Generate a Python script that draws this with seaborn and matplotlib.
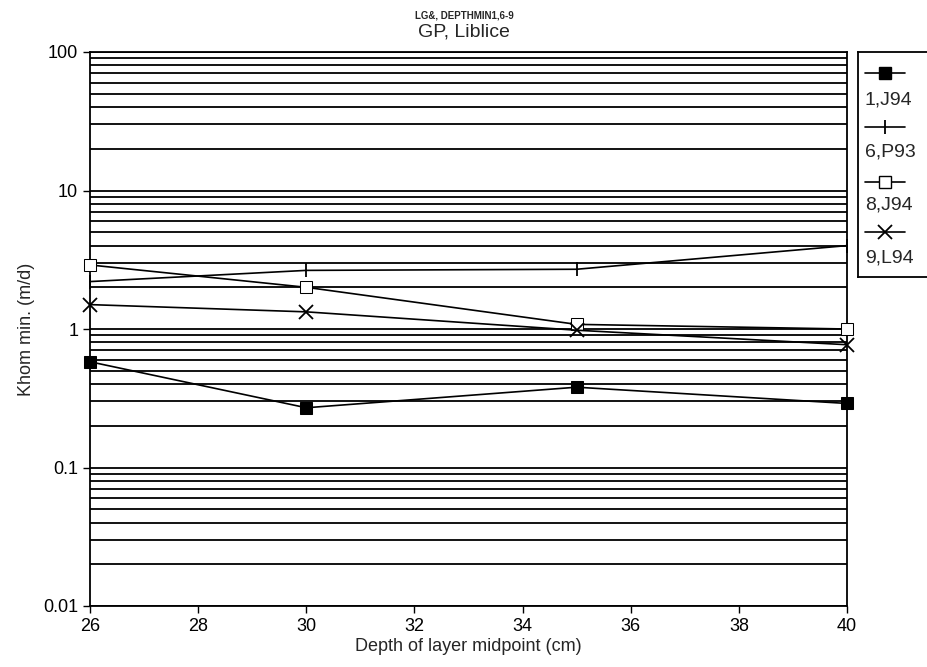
import numpy as np
import pandas as pd
import matplotlib
matplotlib.use("Agg")
import matplotlib.pyplot as plt
from matplotlib.ticker import FixedLocator, FixedFormatter, LogLocator, NullFormatter
import seaborn as sns

depth = [26, 30, 35, 40]
s_1J94 = [0.58, 0.27, 0.38, 0.29]
s_6P93 = [2.2, 2.65, 2.7, 4.0]
s_8J94 = [2.9, 2.0, 1.08, 1.0]
s_9L94 = [1.5, 1.33, 0.98, 0.77]
series_names = ["1,J94", "6,P93", "8,J94", "9,L94"]
series_values = [s_1J94, s_6P93, s_8J94, s_9L94]
y_ticks = [0.01, 0.1, 1, 10, 100]
y_tick_labels = ["0.01", "0.1", "1", "10", "100"]
x_ticks = [26, 28, 30, 32, 34, 36, 38, 40]

sns.set_style("white")
plt.rcParams["font.family"] = ["Liberation Sans", "DejaVu Sans"]

styles = {
    "1,J94": dict(marker="s", markersize=9, markerfacecolor="black", markeredgecolor="black"),
    "6,P93": dict(marker="|", markersize=10, markeredgewidth=1.3, markeredgecolor="black"),
    "8,J94": dict(marker="s", markersize=9, markerfacecolor="white", markeredgecolor="black"),
    "9,L94": dict(marker="x", markersize=10, markeredgewidth=1.3, markeredgecolor="black"),
}

fig = plt.figure(figsize=(9.28, 6.67), dpi=100)
ax = fig.add_axes([90/928, 1-606/667, (847-90)/928, (606-52)/667])

df = pd.DataFrame({
    "depth": np.tile(depth, len(series_names)),
    "value": np.concatenate(series_values),
    "series": np.repeat(series_names, len(depth)),
})

for name in series_names:
    sub = df[df["series"] == name]
    sns.lineplot(data=sub, x="depth", y="value", ax=ax, color="black",
                 linewidth=1.2, legend=False, zorder=3, clip_on=False,
                 **styles[name])

ax.set_yscale("log")
ax.set_ylim(0.01, 100)
ax.set_xlim(26, 40)
ax.yaxis.set_major_locator(FixedLocator(y_ticks))
ax.yaxis.set_major_formatter(FixedFormatter(y_tick_labels))
ax.yaxis.set_minor_locator(LogLocator(base=10, subs=np.arange(2, 10)))
ax.yaxis.set_minor_formatter(NullFormatter())
ax.set_xticks(x_ticks)
ax.grid(True, axis="y", which="both", color="black", linewidth=1.3)
ax.grid(False, axis="x")
ax.tick_params(axis="both", which="major", direction="out", length=5, width=1,
               labelsize=13, colors="black", left=True, bottom=True)
ax.tick_params(axis="y", which="minor", length=0)
for sp in ax.spines.values():
    sp.set_color("black")
    sp.set_linewidth(1.3)
ax.set_xlabel("Depth of layer midpoint (cm)", fontsize=13, labelpad=2)
ax.set_ylabel("Khom min. (m/d)", fontsize=13, labelpad=6)

fig.text(0.5, 0.985, "LG&, DEPTHMIN1,6-9", ha="center", va="top",
         fontsize=7, fontweight="bold")
fig.text(0.5, 0.965, "GP, Liblice", ha="center", va="top", fontsize=14)

# legend box (outside right)
lax = fig.add_axes([858/928, 1-277/667, (928-858)/928, (277-52)/667])
lax.set_xlim(0, 1)
lax.set_ylim(0, 1)
lax.set_xticks([])
lax.set_yticks([])
for sp in lax.spines.values():
    sp.set_color("black")
    sp.set_linewidth(1.3)
marker_y = [0.907, 0.667, 0.422, 0.20]
text_y = [0.787, 0.556, 0.32, 0.084]
for i, name in enumerate(series_names):
    ym = marker_y[i]
    lax.plot([0.1, 0.385, 0.67], [ym, ym, ym], color="black", linewidth=1.2,
             markevery=[1], **styles[name])
    lax.text(0.1, text_y[i], name, ha="left", va="center", fontsize=14)

fig.savefig("out.png", dpi=100)
